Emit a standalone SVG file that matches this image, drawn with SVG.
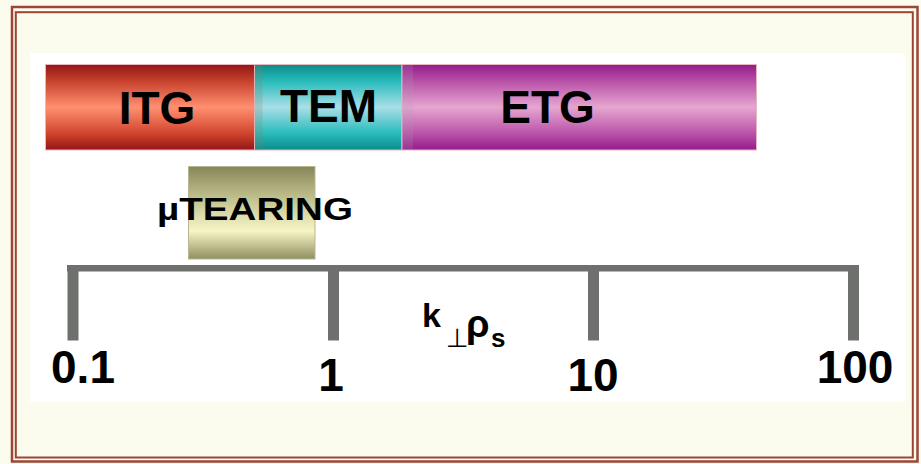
<svg xmlns="http://www.w3.org/2000/svg" width="921" height="464" viewBox="0 0 921 464">
  <defs>
    <linearGradient id="gItg" x1="0" y1="0" x2="0" y2="1">
      <stop offset="0" stop-color="#931515"/>
      <stop offset="0.2" stop-color="#c8432e"/>
      <stop offset="0.5" stop-color="#ff9070"/>
      <stop offset="0.8" stop-color="#d2462f"/>
      <stop offset="1" stop-color="#931515"/>
    </linearGradient>
    <linearGradient id="gTem" x1="0" y1="0" x2="0" y2="1">
      <stop offset="0" stop-color="#0a8c8a"/>
      <stop offset="0.2" stop-color="#2abcbc"/>
      <stop offset="0.5" stop-color="#aadee8"/>
      <stop offset="0.8" stop-color="#2abcbc"/>
      <stop offset="1" stop-color="#0a8c8a"/>
    </linearGradient>
    <linearGradient id="gEtg" x1="0" y1="0" x2="0" y2="1">
      <stop offset="0" stop-color="#951b8b"/>
      <stop offset="0.2" stop-color="#b952a8"/>
      <stop offset="0.5" stop-color="#e6a6d0"/>
      <stop offset="0.8" stop-color="#bb55aa"/>
      <stop offset="1" stop-color="#951b8b"/>
    </linearGradient>
    <linearGradient id="gTear" x1="0" y1="0" x2="0" y2="1">
      <stop offset="0" stop-color="#86865a"/>
      <stop offset="0.35" stop-color="#c2c290"/>
      <stop offset="0.7" stop-color="#f5f5c6"/>
      <stop offset="1" stop-color="#8e8e60"/>
    </linearGradient>
    <style>
      .frame { fill: none; stroke: #9c4436; }
      .bar { stroke: #e8b8c0; stroke-width: 1; }
      .lbl { font-family: "Liberation Sans", Arial, sans-serif; font-weight: bold; fill: #000; }
      .big { font-size: 46px; }
      .axis { fill: #6e706e; }
    </style>
  </defs>

  <!-- page background and double frame -->
  <rect x="0" y="0" width="921" height="464" fill="#fcfcee"/>
  <rect class="frame" x="12" y="7" width="905.5" height="454.5" stroke-width="2.5"/>
  <rect class="frame" x="15.8" y="12.2" width="897" height="445.3" stroke-width="2"/>
  <rect x="30" y="53" width="875" height="349" fill="#ffffff"/>

  <!-- instability bands -->
  <g id="itg">
    <rect class="bar" x="45.5" y="64.5" width="209" height="85.5" fill="url(#gItg)"/>
    <text class="lbl big" x="157" y="124" text-anchor="middle">ITG</text>
  </g>
  <g id="tem">
    <rect class="bar" x="254.5" y="64.5" width="147.5" height="85.5" fill="url(#gTem)" stroke="#9adede"/>
    <rect x="254.5" y="65" width="8" height="85" fill="#8a8060" opacity="0.22"/>
    <text class="lbl big" x="328.5" y="122" text-anchor="middle">TEM</text>
  </g>
  <g id="etg">
    <rect class="bar" x="402" y="64.5" width="354.5" height="85.5" fill="url(#gEtg)" stroke="#dca8d8"/>
    <rect x="402" y="65" width="11" height="85" fill="#a8a0b8" opacity="0.18"/>
    <text class="lbl big" x="547.5" y="123" text-anchor="middle">ETG</text>
  </g>
  <g id="microtearing">
    <rect x="188.5" y="166.5" width="126.5" height="92.5" fill="url(#gTear)" stroke="#b8b890" stroke-width="1"/>
    <text class="lbl" x="157" y="220" font-size="31" textLength="196" lengthAdjust="spacingAndGlyphs">µTEARING</text>
  </g>

  <!-- k-perp rho-s axis -->
  <g id="axis">
    <rect class="axis" x="67" y="265" width="792" height="6.5"/>
    <rect class="axis" x="67.5" y="265" width="11" height="75.5"/>
    <rect class="axis" x="328" y="265" width="11" height="75.5"/>
    <rect class="axis" x="588" y="265" width="11" height="75.5"/>
    <rect class="axis" x="848" y="265" width="11" height="75.5"/>
  </g>
  <g id="axis-labels">
    <text class="lbl big" x="83" y="383" text-anchor="middle">0.1</text>
    <text class="lbl big" x="331" y="391" text-anchor="middle">1</text>
    <text class="lbl big" x="593" y="391" text-anchor="middle">10</text>
    <text class="lbl big" x="855" y="383" text-anchor="middle">100</text>
    <!-- axis variable: k-perp rho-s -->
    <text class="lbl"><tspan x="422" y="327" font-size="34">k</tspan><tspan x="446" y="347" font-family="DejaVu Sans, sans-serif" font-weight="normal" font-size="26">⊥</tspan><tspan x="466" y="337" font-size="38">ρ</tspan><tspan x="491" y="347" font-size="26">s</tspan></text>
  </g>
</svg>
